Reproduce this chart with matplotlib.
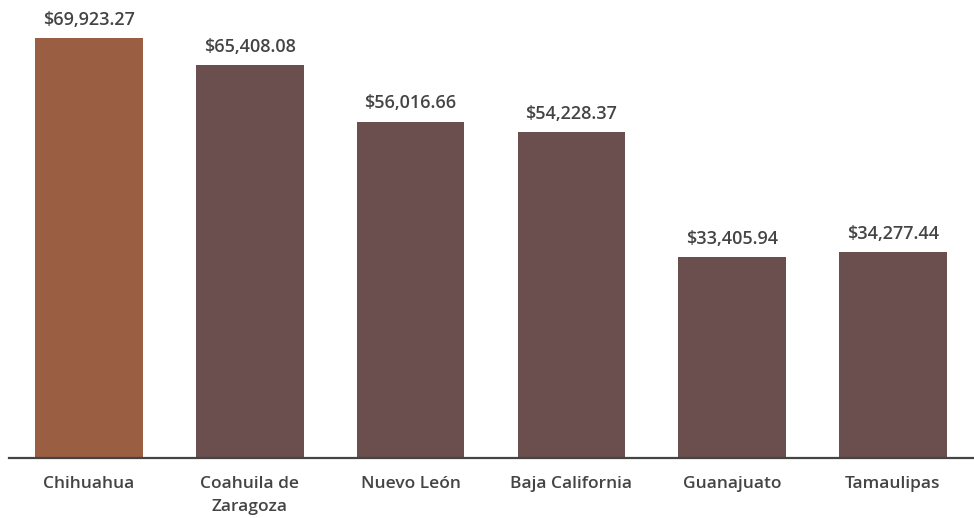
import matplotlib.pyplot as plt

plt.rcParams['font.family'] = ['Open Sans', 'DejaVu Sans']

states = ["Chihuahua", "Coahuila de\nZaragoza", "Nuevo León",
          "Baja California", "Guanajuato", "Tamaulipas"]
values = [69923.27, 65408.08, 56016.66, 54228.37, 33405.94, 34277.44]
highlight = "Chihuahua"

colors = ['#9a5e42' if s == highlight else '#6b4f4f' for s in states]
text_color = '#444444'

fig = plt.figure(figsize=(9.74, 5.18), dpi=100)
ax = fig.add_axes([8.6 / 974, 60 / 518, 964.8 / 974, 458 / 518])

bars = ax.bar(range(len(states)), values, width=0.67, color=colors)

for b, v in zip(bars, values):
    ax.annotate(f"${v:,.2f}", (b.get_x() + b.get_width() / 2, v),
                xytext=(0, 6.5), textcoords='offset points',
                ha='center', va='bottom', fontsize=13, fontweight='semibold',
                color=text_color)

ax.set_xlim(-0.5, len(states) - 0.5)
ax.set_ylim(0, 76245)
ax.set_xticks(range(len(states)))
ax.set_xticklabels(states, fontsize=12.5, fontweight='semibold', color=text_color,
                   linespacing=1.55, va='top')
ax.tick_params(axis='x', length=0, pad=13)
ax.set_yticks([])
for side in ['top', 'right', 'left']:
    ax.spines[side].set_visible(False)
ax.spines['bottom'].set_color(text_color)
ax.spines['bottom'].set_linewidth(1.6)

fig.savefig('out.png', dpi=100)
